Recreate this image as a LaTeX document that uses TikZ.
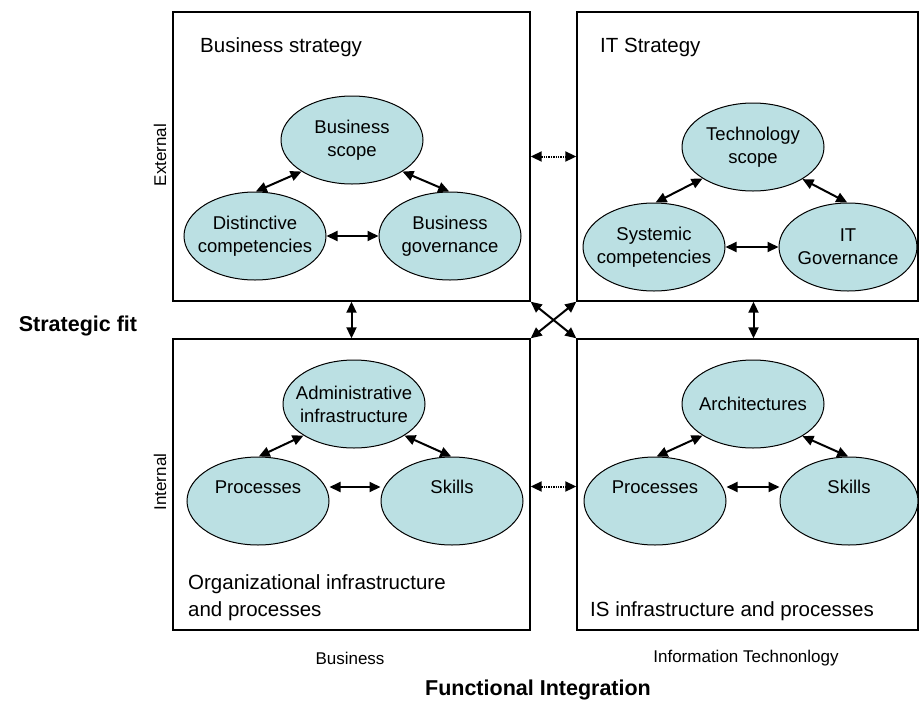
\documentclass[tikz,border=0pt]{standalone}
\usepackage{fontspec}
\setmainfont{Liberation Sans}
\usetikzlibrary{shapes.geometric,arrows.meta}
\definecolor{ecol}{RGB}{187,224,227}
\begin{document}
\begin{tikzpicture}[x=1pt,y=-1pt,
  box/.style={draw,line width=1.4pt,inner sep=0pt},
  ell/.style={ellipse,draw,fill=ecol,line width=1pt,minimum width=142pt,minimum height=88pt,inner sep=0pt},
  lbl/.style={font=\fontsize{18.5}{23}\selectfont,align=center,inner sep=0pt},
  title/.style={anchor=base west,font=\fontsize{20.5}{26}\selectfont,align=left,inner sep=0pt},
  dbl/.style={{Triangle[length=11pt,width=10pt]}-{Triangle[length=11pt,width=10pt]},line width=2pt},
  dotarr/.style={{Triangle[length=11pt,width=10pt]}-{Triangle[length=11pt,width=10pt]},line width=2pt,dash pattern=on 1.3pt off 1.1pt},
  small/.style={font=\fontsize{17}{20}\selectfont,inner sep=0pt},
  bold/.style={font=\fontsize{21.5}{25}\selectfont\bfseries,inner sep=0pt}]
\useasboundingbox (0,0) rectangle (922,702);
% boxes
\node[box,minimum width=357pt,minimum height=289pt] (tl) at (351.5,156.5) {};
\node[box,minimum width=341pt,minimum height=289pt] (tr) at (747.5,156.5) {};
\node[box,minimum width=357pt,minimum height=291pt] (bl) at (351.5,484.5) {};
\node[box,minimum width=341pt,minimum height=291pt] (br) at (747.5,484.5) {};
% titles
\node[title] (t1) at (200,52) {Business strategy};
\node[title] (t2) at (600,52) {IT Strategy};
\node[title] (t3) at (188,589) {Organizational infrastructure};
\node[title] (t3b) at (188,616) {and processes};
\node[title] (t4) at (590,616) {IS infrastructure and processes};
% TL ellipses
\node[ell,label={[lbl]center:Business\\scope}] (bscope) at (352,140) {};
\node[ell,label={[lbl]center:Distinctive\\competencies}] (dist) at (255,236) {};
\node[ell,label={[lbl]center:Business\\governance}] (bgov) at (450,236) {};
\draw[dbl] (bscope.212) -- (dist.89);
\draw[dbl] (bscope.328) -- (bgov.91);
\draw[dbl] (dist) -- (bgov);
% TR ellipses
\node[ell,label={[lbl]center:Technology\\scope}] (tscope) at (753,147) {};
\node[ell,label={[lbl]center:Systemic\\competencies}] (sys) at (654,247) {};
\node[ell,minimum width=138pt,label={[lbl]center:IT\\Governance}] (itgov) at (848,247) {};
\draw[dbl] (tscope.212) -- (sys.88);
\draw[dbl] (tscope.327) -- (itgov.91);
\draw[dbl] (sys) -- (itgov);
% BL ellipses
\node[ell,label={[lbl]center:Administrative\\infrastructure}] (admin) at (354,404) {};
\node[ell,label={[yshift=14pt,lbl]center:Processes}] (proc1) at (258,501) {};
\node[ell,label={[yshift=14pt,lbl]center:Skills}] (skill1) at (452,501) {};
\draw[dbl] (admin.212) -- (proc1.89);
\draw[dbl] (admin.328) -- (skill1.91);
\draw[dbl] ([yshift=14pt]proc1.east) -- ([yshift=14pt]skill1.west);
% BR ellipses
\node[ell,label={[lbl]center:Architectures}] (arch) at (753,404) {};
\node[ell,label={[yshift=14pt,lbl]center:Processes}] (proc2) at (655,501) {};
\node[ell,minimum width=138pt,label={[yshift=14pt,lbl]center:Skills}] (skill2) at (849,501) {};
\draw[dbl] (arch.212) -- (proc2.88);
\draw[dbl] (arch.327) -- (skill2.91);
\draw[dbl] ([yshift=14pt]proc2.east) -- ([yshift=14pt]skill2.west);
% inter-box arrows
\draw[dbl] (tl.south) -- (bl.north);
\draw[dbl] ([xshift=6pt]tr.south) -- ([xshift=6pt]br.north);
\draw[dbl] (tl.south east) -- (br.north west);
\draw[dbl] (tr.south west) -- (bl.north east);
\draw[dotarr] (tl.east) -- (tr.west);
\draw[dotarr] ([yshift=-2pt]bl.east) -- ([yshift=-2pt]br.west);
% side labels
\node[small,rotate=90] (ext) at (160,155) {External};
\node[small,rotate=90] (int) at (160,482) {Internal};
\node[bold] (sfit) at (78,326) {Strategic fit};
\node[small] (bus) at (350,658) {Business};
\node[small] (infot) at (746,658) {Information Technonlogy};
\node[bold] (fint) at (538,690) {Functional Integration};
\end{tikzpicture}
\end{document}
